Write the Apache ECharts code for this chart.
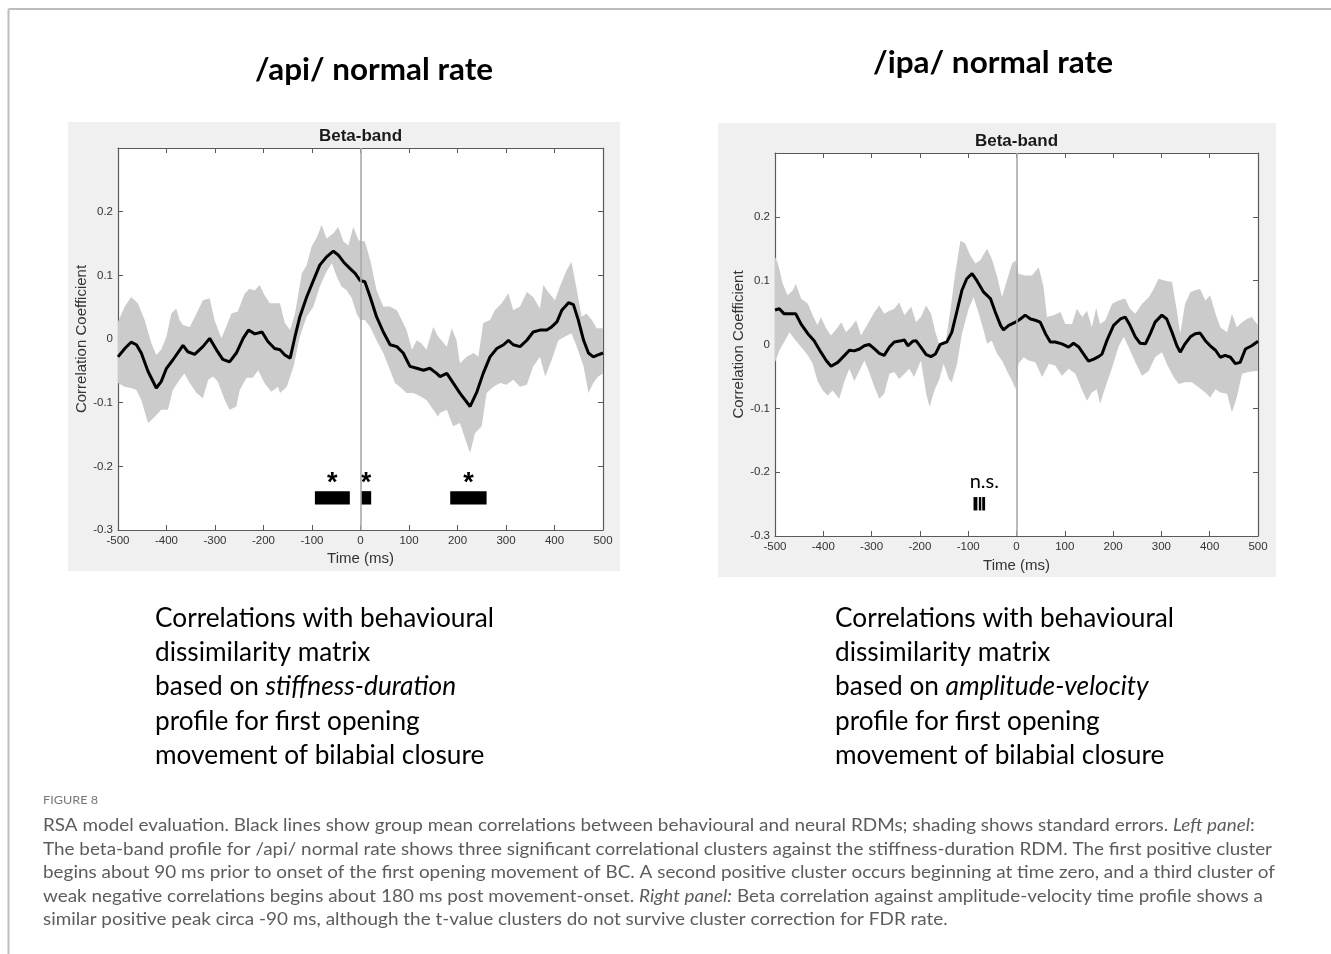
<!DOCTYPE html>
<html><head><meta charset="utf-8">
<script src="https://cdn.jsdelivr.net/npm/echarts@6/dist/echarts.min.js"></script>
<style>html,body{margin:0;padding:0;background:#fff}#c{width:1331px;height:954px}</style>
</head><body><div id="c"></div>
<script>
// ---------------- DATA ----------------
const xTickValues = [-500, -400, -300, -200, -100, 0, 100, 200, 300, 400, 500];
const yTickValues = [-0.3, -0.2, -0.1, 0, 0.1, 0.2, 0.3];
const onsetTime = 0;

const panelTitles = ['/api/ normal rate', '/ipa/ normal rate'];
const bandTitle = 'Beta-band';
const xAxisTitle = 'Time (ms)';
const yAxisTitle = 'Correlation Coefficient';

// left panel: /api/ normal rate, group mean and standard-error bounds
const leftMean = [[-500,-0.028],[-486,-0.015],[-473,-0.005],[-462,-0.009],[-452,-0.022],[-438,-0.051],[-421,-0.077],[-411,-0.067],[-400,-0.046],[-387,-0.033],[-366,-0.010],[-356,-0.020],[-342,-0.024],[-325,-0.012],[-311,0.001],[-297,-0.017],[-284,-0.032],[-270,-0.036],[-256,-0.022],[-242,0.001],[-231,0.014],[-218,0.008],[-203,0.011],[-191,-0.004],[-177,-0.015],[-166,-0.017],[-156,-0.025],[-145,-0.030],[-135,0.004],[-125,0.035],[-111,0.066],[-97,0.092],[-84,0.116],[-70,0.129],[-56,0.138],[-46,0.132],[-35,0.121],[-22,0.111],[-11,0.103],[-1,0.092],[9,0.090],[20,0.066],[33,0.035],[47,0.011],[61,-0.009],[75,-0.012],[88,-0.022],[102,-0.043],[116,-0.046],[130,-0.049],[143,-0.046],[157,-0.054],[164,-0.059],[178,-0.054],[191,-0.069],[205,-0.085],[226,-0.106],[240,-0.083],[253,-0.054],[267,-0.028],[281,-0.015],[295,-0.009],[305,-0.002],[315,-0.009],[329,-0.012],[343,-0.002],[356,0.011],[370,0.014],[384,0.014],[394,0.019],[405,0.027],[415,0.045],[429,0.057],[439,0.054],[449,0.030],[460,-0.002],[470,-0.022],[480,-0.028],[490,-0.025],[500,-0.022]];
const leftUpper = [[-500,0.027],[-486,0.051],[-473,0.066],[-459,0.056],[-445,0.030],[-431,-0.007],[-421,-0.025],[-411,-0.017],[-400,0.004],[-390,0.040],[-380,0.048],[-373,0.030],[-366,0.022],[-352,0.019],[-338,0.040],[-325,0.061],[-311,0.064],[-301,0.030],[-287,0.001],[-277,0.019],[-266,0.040],[-253,0.043],[-239,0.071],[-229,0.079],[-218,0.076],[-208,0.085],[-198,0.069],[-187,0.056],[-174,0.056],[-166,0.056],[-156,0.025],[-145,0.014],[-135,0.040],[-121,0.103],[-111,0.116],[-101,0.145],[-90,0.160],[-80,0.179],[-70,0.158],[-56,0.166],[-46,0.176],[-35,0.153],[-25,0.147],[-15,0.176],[-4,0.155],[9,0.153],[20,0.124],[33,0.077],[47,0.051],[61,0.051],[75,0.045],[85,0.030],[95,0.014],[106,-0.017],[116,-0.002],[126,-0.007],[136,-0.017],[150,0.019],[160,0.004],[178,-0.012],[188,0.017],[198,-0.002],[205,-0.038],[219,-0.028],[233,-0.022],[243,-0.028],[253,0.025],[267,0.030],[277,0.045],[291,0.056],[305,0.072],[315,0.045],[329,0.051],[343,0.074],[356,0.066],[370,0.048],[377,0.085],[387,0.074],[401,0.061],[411,0.082],[425,0.108],[435,0.121],[446,0.077],[456,0.035],[466,0.040],[477,0.030],[487,0.017],[500,0.017]];
const leftLower = [[-500,-0.069],[-486,-0.075],[-473,-0.077],[-462,-0.080],[-452,-0.096],[-438,-0.132],[-424,-0.122],[-411,-0.111],[-397,-0.111],[-387,-0.080],[-373,-0.064],[-363,-0.054],[-352,-0.069],[-338,-0.085],[-325,-0.093],[-314,-0.064],[-304,-0.059],[-294,-0.067],[-280,-0.096],[-270,-0.111],[-256,-0.106],[-249,-0.080],[-235,-0.061],[-222,-0.061],[-211,-0.049],[-198,-0.069],[-184,-0.083],[-170,-0.075],[-166,-0.085],[-152,-0.075],[-138,-0.043],[-125,0.004],[-111,0.035],[-97,0.051],[-84,0.082],[-70,0.106],[-59,0.119],[-49,0.098],[-39,0.082],[-29,0.077],[-18,0.064],[-8,0.040],[-1,0.030],[9,0.030],[20,0.019],[33,-0.002],[47,-0.022],[61,-0.049],[71,-0.069],[81,-0.075],[95,-0.085],[109,-0.085],[123,-0.090],[136,-0.096],[150,-0.111],[160,-0.122],[164,-0.116],[178,-0.111],[191,-0.137],[205,-0.132],[219,-0.164],[226,-0.179],[236,-0.148],[250,-0.137],[260,-0.085],[274,-0.075],[288,-0.069],[301,-0.072],[315,-0.064],[329,-0.075],[343,-0.072],[356,-0.043],[370,-0.028],[381,-0.059],[394,-0.033],[408,-0.002],[422,0.004],[435,0.009],[446,-0.012],[460,-0.043],[470,-0.085],[480,-0.069],[490,-0.059],[500,-0.054]];
// significant clusters (start, end in ms)
const leftClusters = [[-94,-22],[1,22],[185,260]];
const leftClusterMark = '*';

// right panel: /ipa/ normal rate
const rightMean = [[-500,0.054],[-491,0.056],[-481,0.048],[-467,0.048],[-457,0.048],[-446,0.032],[-432,0.017],[-419,0.006],[-405,-0.012],[-394,-0.025],[-384,-0.034],[-370,-0.028],[-356,-0.017],[-346,-0.009],[-336,-0.010],[-325,-0.007],[-315,-0.002],[-305,0.000],[-294,-0.007],[-284,-0.014],[-274,-0.017],[-263,-0.004],[-253,0.004],[-239,0.006],[-232,0.007],[-225,-0.002],[-215,0.005],[-208,0.006],[-198,-0.004],[-187,-0.016],[-177,-0.019],[-168,-0.015],[-158,0.000],[-144,0.004],[-134,0.019],[-123,0.053],[-113,0.085],[-103,0.103],[-92,0.111],[-82,0.100],[-68,0.082],[-54,0.072],[-44,0.051],[-33,0.030],[-27,0.023],[-16,0.030],[-2,0.035],[8,0.040],[18,0.046],[29,0.040],[39,0.038],[49,0.035],[60,0.017],[70,0.004],[80,0.004],[94,0.001],[108,-0.004],[118,0.002],[129,-0.004],[139,-0.015],[149,-0.026],[160,-0.023],[170,-0.019],[177,-0.015],[187,0.006],[201,0.030],[215,0.040],[225,0.043],[235,0.030],[246,0.012],[256,0.002],[267,0.001],[277,0.017],[287,0.035],[301,0.046],[311,0.040],[322,0.019],[332,-0.002],[339,-0.012],[349,0.001],[360,0.012],[370,0.017],[380,0.018],[391,0.006],[401,-0.002],[412,-0.009],[422,-0.020],[432,-0.017],[443,-0.020],[453,-0.030],[463,-0.028],[474,-0.007],[487,-0.002],[500,0.005]];
const rightUpper = [[-500,0.137],[-494,0.127],[-484,0.095],[-474,0.077],[-463,0.085],[-457,0.095],[-446,0.072],[-432,0.064],[-422,0.046],[-412,0.030],[-405,0.043],[-394,0.025],[-384,0.014],[-370,0.027],[-363,0.035],[-353,0.019],[-343,0.027],[-332,0.038],[-322,0.014],[-308,0.032],[-294,0.051],[-284,0.061],[-274,0.048],[-263,0.053],[-253,0.056],[-243,0.066],[-232,0.046],[-218,0.059],[-208,0.035],[-198,0.043],[-187,0.061],[-177,0.048],[-168,0.019],[-158,-0.004],[-147,0.001],[-137,0.053],[-127,0.111],[-116,0.163],[-106,0.158],[-96,0.140],[-85,0.127],[-75,0.132],[-61,0.150],[-51,0.134],[-40,0.106],[-30,0.074],[-20,0.100],[-9,0.127],[-2,0.132],[4,0.111],[18,0.108],[32,0.108],[46,0.121],[56,0.090],[63,0.043],[77,0.046],[91,0.051],[101,0.032],[115,0.032],[125,0.056],[136,0.043],[146,0.053],[156,0.027],[165,0.057],[173,0.032],[184,0.038],[198,0.064],[211,0.069],[225,0.072],[235,0.056],[246,0.048],[260,0.064],[274,0.074],[284,0.087],[294,0.103],[308,0.100],[322,0.098],[332,0.053],[339,0.017],[349,0.064],[360,0.082],[370,0.085],[380,0.087],[391,0.069],[401,0.077],[412,0.048],[422,0.027],[436,0.019],[446,0.048],[456,0.027],[467,0.035],[477,0.040],[487,0.043],[500,0.030]];
const rightLower = [[-500,-0.028],[-491,-0.009],[-481,0.004],[-470,0.019],[-460,0.009],[-446,-0.004],[-432,-0.017],[-422,-0.030],[-412,-0.057],[-401,-0.072],[-391,-0.080],[-381,-0.072],[-367,-0.085],[-356,-0.057],[-346,-0.038],[-336,-0.057],[-325,-0.041],[-315,-0.025],[-305,-0.043],[-294,-0.067],[-284,-0.085],[-274,-0.077],[-263,-0.046],[-253,-0.043],[-243,-0.054],[-232,-0.046],[-222,-0.038],[-212,-0.051],[-198,-0.025],[-187,-0.077],[-180,-0.098],[-170,-0.072],[-160,-0.055],[-151,-0.030],[-140,-0.054],[-134,-0.059],[-123,-0.030],[-113,0.017],[-99,0.056],[-89,0.074],[-78,0.048],[-68,0.022],[-61,0.001],[-51,0.006],[-40,-0.015],[-30,-0.025],[-20,-0.041],[-9,-0.057],[-2,-0.070],[4,-0.030],[15,-0.020],[25,-0.025],[39,-0.028],[53,-0.051],[67,-0.030],[80,-0.033],[94,-0.049],[108,-0.038],[122,-0.046],[136,-0.072],[146,-0.088],[156,-0.075],[166,-0.070],[173,-0.093],[184,-0.067],[198,-0.036],[211,-0.004],[222,0.012],[232,-0.004],[246,-0.028],[260,-0.049],[274,-0.041],[287,-0.020],[301,-0.012],[311,-0.030],[325,-0.051],[336,-0.062],[349,-0.059],[363,-0.059],[377,-0.067],[391,-0.075],[401,-0.083],[412,-0.070],[422,-0.075],[436,-0.077],[446,-0.106],[456,-0.083],[467,-0.046],[480,-0.043],[500,-0.041]];
const rightClusters = [[-89,-81],[-78,-73],[-71,-65]];
const rightClusterNote = 'n.s.';

// text blocks
const leftCaption = [
  [{t:'Correlations with behavioural'}],
  [{t:'dissimilarity matrix'}],
  [{t:'based on '},{t:'stiffness-duration', i:true}],
  [{t:'profile for first opening'}],
  [{t:'movement of bilabial closure'}]
];
const rightCaption = [
  [{t:'Correlations with behavioural'}],
  [{t:'dissimilarity matrix'}],
  [{t:'based on '},{t:'amplitude-velocity', i:true}],
  [{t:'profile for first opening'}],
  [{t:'movement of bilabial closure'}]
];
const figureLabel = 'FIGURE 8';
const figureCaption = [
  [{t:'RSA model evaluation. Black lines show group mean correlations between behavioural and neural RDMs; shading shows standard errors. '},{t:'Left panel', i:true},{t:':'}],
  [{t:'The beta-band profile for /api/ normal rate shows three significant correlational clusters against the stiffness-duration RDM. The first positive cluster'}],
  [{t:'begins about 90 ms prior to onset of the first opening movement of BC. A second positive cluster occurs beginning at time zero, and a third cluster of'}],
  [{t:'weak negative correlations begins about 180 ms post movement-onset. '},{t:'Right panel:', i:true},{t:' Beta correlation against amplitude-velocity time profile shows a'}],
  [{t:'similar positive peak circa -90 ms, although the t-value clusters do not survive cluster correction for FDR rate.'}]
];

// ---------------- LAYOUT / STYLE ----------------
const grids = [
  {left:118, top:148, width:485, height:382, panel:[68,122,552,449], titleX:374, titleY:70, bandY:136, nameGapX:21, nameGapY:28},
  {left:775, top:153, width:483, height:383, panel:[718,123,558,454], titleX:993, titleY:63, bandY:141, nameGapX:22, nameGapY:29}
];
const AX = '#5a5a5a';
const BAND = '#cbcbcb';
const TICKFONT = 'Liberation Sans';

const mctx = document.createElement('canvas').getContext('2d');
function textWidth(str, font){ mctx.font = font; return mctx.measureText(str).width; }

function makeAxes(g, gi){
  const common = {
    type:'value', gridIndex: gi, splitLine:{show:false},
    axisLine:{show:true, onZero:false, lineStyle:{color:AX, width:1.2}},
    axisTick:{show:true, inside:true, length:5, lineStyle:{color:AX, width:1}}
  };
  const xb = Object.assign({}, common, {
    min:xTickValues[0], max:xTickValues[xTickValues.length-1], interval:100, position:'bottom',
    axisLabel:{show:true, margin:5, fontFamily:TICKFONT, fontSize:11.5, color:'#333'},
    name:xAxisTitle, nameLocation:'middle', nameGap:g.nameGapX,
    nameTextStyle:{fontFamily:TICKFONT, fontSize:15, color:'#333'}
  });
  const xt = Object.assign({}, common, {
    min:xTickValues[0], max:xTickValues[xTickValues.length-1], interval:100, position:'top',
    axisLabel:{show:false}
  });
  const yl = Object.assign({}, common, {
    min:yTickValues[0], max:yTickValues[yTickValues.length-1], interval:0.1, position:'left',
    axisLabel:{show:true, margin:5, fontFamily:TICKFONT, fontSize:11.5, color:'#333',
      formatter: v => (Math.abs(v - 0.3) < 1e-9) ? '' : String(Math.round(v*10)/10)},
    name:yAxisTitle, nameLocation:'middle', nameGap:g.nameGapY,
    nameTextStyle:{fontFamily:TICKFONT, fontSize:15, color:'#333'}
  });
  const yr = Object.assign({}, common, {
    min:yTickValues[0], max:yTickValues[yTickValues.length-1], interval:0.1, position:'right',
    axisLabel:{show:false}
  });
  return {x:[xb, xt], y:[yl, yr]};
}

function bandSeries(upper, lower, ai){
  return {
    type:'custom', xAxisIndex:ai, yAxisIndex:ai, silent:true, z:1, data:[[0,0]],
    renderItem:(params, api) => {
      const pts = upper.map(p => api.coord(p)).concat(lower.slice().reverse().map(p => api.coord(p)));
      return {type:'polygon', shape:{points:pts}, style:{fill:BAND, stroke:null}};
    }
  };
}
function onsetSeries(ai){
  return {
    type:'line', xAxisIndex:ai, yAxisIndex:ai, data:[], z:2, silent:true,
    markLine:{silent:true, symbol:'none', label:{show:false}, animation:false,
      lineStyle:{color:'#a9a9a9', width:1.6, type:'solid'}, data:[{xAxis:onsetTime}]}
  };
}
function meanSeries(data, ai){
  return {type:'line', xAxisIndex:ai, yAxisIndex:ai, data:data, z:3, showSymbol:false, silent:true,
    lineStyle:{color:'#000', width:3}};
}
const SIG_TOP = -0.239, SIG_BOTTOM = -0.260, MARK_Y = -0.2165;
function clusterSeries(clusters, ai, markText, markMode){
  return {
    type:'custom', xAxisIndex:ai, yAxisIndex:ai, silent:true, z:4, data:clusters,
    renderItem:(params, api) => {
      const s = api.value(0), e = api.value(1);
      const a = api.coord([s, SIG_TOP]), b = api.coord([e, SIG_BOTTOM]);
      const children = [{type:'rect', shape:{x:a[0], y:a[1], width:b[0]-a[0], height:b[1]-a[1]}, style:{fill:'#000'}}];
      if (markMode === 'each') {
        const c = api.coord([(s+e)/2, MARK_Y]);
        children.push({type:'text', x:c[0], y:c[1]+7, style:{text:markText, fill:'#000',
          fontFamily:'Liberation Sans', fontWeight:'bold', fontSize:27, align:'center', verticalAlign:'middle'}});
      } else if (markMode === 'group' && params.dataIndex === 0) {
        const first = clusters[0][0], last = clusters[clusters.length-1][1];
        const c = api.coord([(first+last)/2, MARK_Y]);
        children.push({type:'text', x:c[0]+5, y:c[1]-1, style:{text:markText, fill:'#000',
          fontFamily:'Lato', fontSize:20, align:'center', verticalAlign:'middle'}});
      }
      return {type:'group', children};
    }
  };
}

// graphic helpers
function richLine(parts, x, y, family, size, color, scale, align){
  let str = '';
  const rich = {n:{fontFamily:family, fontSize:size, fill:color}, i:{fontFamily:family, fontSize:size, fill:color, fontStyle:'italic'}};
  parts.forEach(p => { str += '{' + (p.i ? 'i' : 'n') + '|' + p.t + '}'; });
  return {type:'text', x:x, y:y, scaleX:scale, silent:true,
    style:{text:str, rich:rich, fontFamily:family, fontSize:size, fill:color, align:align||'left', verticalAlign:'middle'}};
}

const axesL = makeAxes(grids[0], 0), axesR = makeAxes(grids[1], 1);

const graphics = [];
// outer frame lines
graphics.push({type:'line', shape:{x1:8.5, y1:9, x2:1331, y2:9}, style:{stroke:'#bdbdbd', lineWidth:2}, silent:true, z:-10});
graphics.push({type:'line', shape:{x1:8.5, y1:9, x2:8.5, y2:954}, style:{stroke:'#bdbdbd', lineWidth:2}, silent:true, z:-10});
// panel backgrounds
grids.forEach((g, gi) => {
  graphics.push({type:'rect', shape:{x:g.panel[0], y:g.panel[1], width:g.panel[2], height:g.panel[3]}, style:{fill:'#f0f0f0'}, silent:true, z:-10});
  // main title
  const tf = 'bold 30px Lato';
  const ts = [238, 240][gi] / textWidth(panelTitles[gi], tf);
  graphics.push({type:'text', x:g.titleX, y:g.titleY, scaleX:ts, silent:true,
    style:{text:panelTitles[gi], fontFamily:'Lato', fontWeight:'bold', fontSize:30, fill:'#000', align:'center', verticalAlign:'middle'}});
  // band subtitle
  graphics.push({type:'text', x:g.left + g.width/2, y:g.bandY, silent:true,
    style:{text:bandTitle, fontFamily:'Liberation Sans', fontWeight:'bold', fontSize:17, fill:'#1a1a1a', align:'center', verticalAlign:'middle'}});
});
// big captions
const capFont = '27px Lato';
const capScale = 339 / textWidth(leftCaption[0][0].t, capFont);
[leftCaption, rightCaption].forEach((cap, ci) => {
  const x0 = [155, 835][ci];
  cap.forEach((line, li) => {
    graphics.push(richLine(line, x0, 618 + li*34.3, 'Lato', 27, '#000', capScale));
  });
});
// figure label & caption
const figFamily = 'Lato';
const figScale = 1229 / textWidth(figureCaption[1][0].t, '17px ' + figFamily);
graphics.push({type:'text', x:43, y:800, scaleX: 55 / textWidth(figureLabel, '12px ' + figFamily), silent:true,
  style:{text:figureLabel, fontFamily:figFamily, fontSize:12, fill:'#777', align:'left', verticalAlign:'middle'}});
figureCaption.forEach((line, li) => {
  graphics.push(richLine(line, 43, 826 + li*23.35, figFamily, 17, '#5c5c5c', figScale));
});

const option = {
  animation:false,
  backgroundColor:'#fff',
  grid: grids.map(g => ({left:g.left, top:g.top, width:g.width, height:g.height, containLabel:false,
    show:true, backgroundColor:'#fff', borderWidth:0, z:0})),
  xAxis: axesL.x.concat(axesR.x.map(a => Object.assign(a, {gridIndex:1}))),
  yAxis: axesL.y.concat(axesR.y.map(a => Object.assign(a, {gridIndex:1}))),
  series: [
    bandSeries(leftUpper, leftLower, 0),
    onsetSeries(0),
    meanSeries(leftMean, 0),
    clusterSeries(leftClusters, 0, leftClusterMark, 'each'),
    bandSeries(rightUpper, rightLower, 2),
    onsetSeries(2),
    meanSeries(rightMean, 2),
    clusterSeries(rightClusters, 2, rightClusterNote, 'group')
  ],
  graphic: graphics
};
const chart = echarts.init(document.getElementById('c'), null, {renderer:'canvas'});
chart.setOption(option);
</script></body></html>
